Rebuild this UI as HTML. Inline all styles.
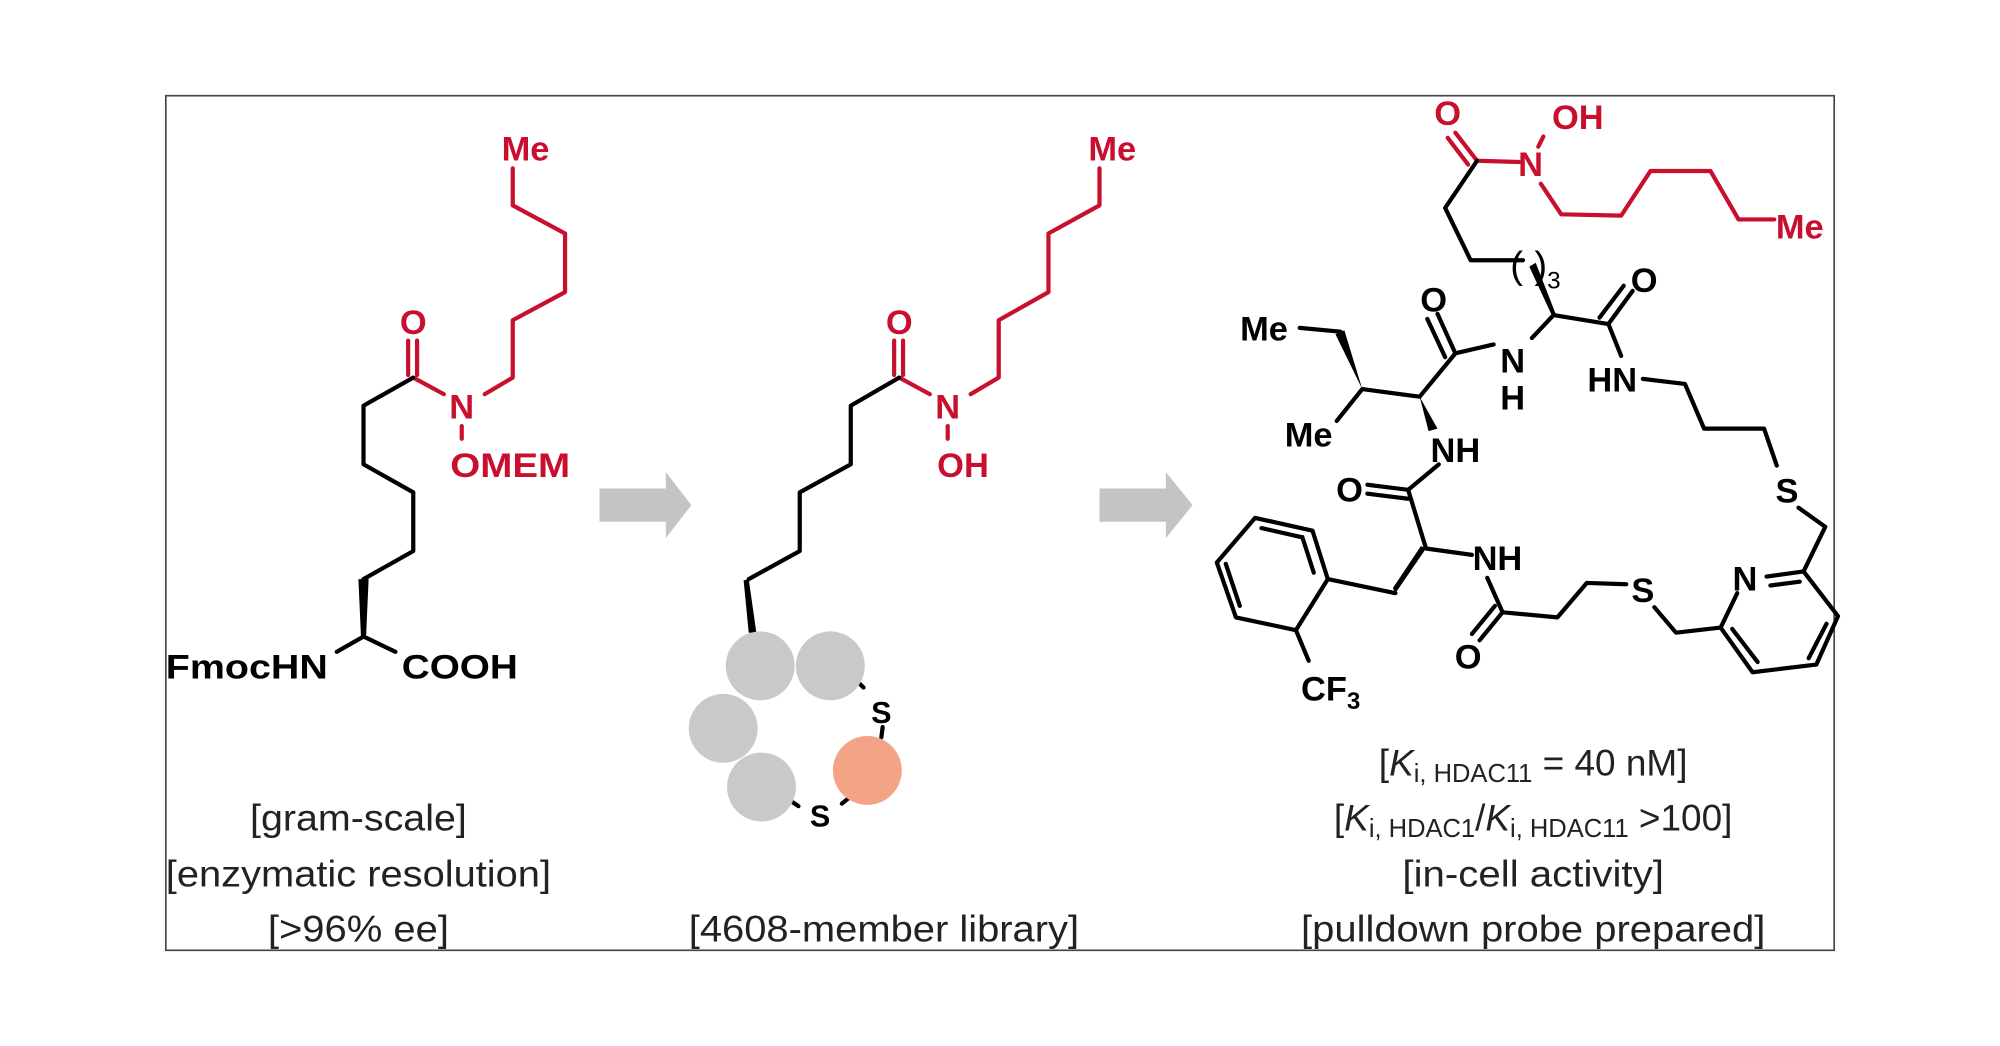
<!DOCTYPE html>
<html><head><meta charset="utf-8"><style>html,body{margin:0;padding:0;background:#fff}svg{display:block}</style></head><body>
<svg width="2000" height="1046" viewBox="0 0 1568 820" xmlns="http://www.w3.org/2000/svg">
<rect x="130" y="75" width="1308" height="670" fill="none" stroke="#444" stroke-width="1.3"/>
<g fill="none" stroke-width="3.3" stroke-linejoin="round" stroke-linecap="round">
<polyline stroke="#c8102e" points="402,132 402,161 443,183 443,229 402,251 402,296 380,309"/>
<polyline stroke="#c8102e" points="324,296 348,309"/>
<line stroke="#c8102e" x1="320" y1="267" x2="320" y2="294"/>
<line stroke="#c8102e" x1="327" y1="267" x2="327" y2="294"/>
<line stroke="#c8102e" x1="362" y1="334" x2="362" y2="344"/>
<polyline stroke="#000" points="324,296 285,318 285,364 324,386 324,432 285,454"/>
<polyline stroke="#000" points="264,511 285,499 310,511"/>
<polyline stroke="#c8102e" points="862,132 862,161 822,183 822,229 783,251 783,296 761,309"/>
<polyline stroke="#c8102e" points="705,296 729,309"/>
<line stroke="#c8102e" x1="701" y1="267" x2="701" y2="294"/>
<line stroke="#c8102e" x1="708" y1="267" x2="708" y2="294"/>
<line stroke="#c8102e" x1="743" y1="334" x2="743" y2="344"/>
<polyline stroke="#000" points="705,296 667,318 667,364 627,386 627,432 587,454"/>
<line stroke="#000" x1="674" y1="536" x2="677" y2="539"/>
<line stroke="#000" x1="692" y1="570" x2="691" y2="578"/>
<line stroke="#000" x1="660" y1="630" x2="665" y2="626"/>
<line stroke="#000" x1="620" y1="628" x2="626" y2="632"/>
<polyline stroke="#c8102e" points="1158,126 1191,127"/>
<line stroke="#c8102e" x1="1158" y1="126" x2="1141" y2="104"/>
<line stroke="#c8102e" x1="1151" y1="129" x2="1135" y2="108"/>
<line stroke="#c8102e" x1="1210" y1="107" x2="1206" y2="115"/>
<polyline stroke="#c8102e" points="1208,144 1224,168 1271,169 1294,134 1341,134 1363,172 1391,172"/>
<polyline stroke="#000" points="1158,126 1133,163 1153,204 1194,204"/>
<polyline stroke="#000" points="1218,247 1261,254 1271,279"/>
<line stroke="#000" x1="1261" y1="254" x2="1280" y2="228"/>
<line stroke="#000" x1="1254" y1="249" x2="1273" y2="224"/>
<polyline stroke="#000" points="1218,247 1201,265"/>
<polyline stroke="#000" points="1288,297 1321,301 1336,336 1383,336 1393,365"/>
<polyline stroke="#000" points="1410,398 1431,413 1414,448 1441,483 1424,521 1374,527 1349,492 1314,496 1297,476"/>
<polyline stroke="#000" points="1414,448 1385,452"/>
<line stroke="#000" x1="1411" y1="456" x2="1388" y2="459"/>
<line stroke="#000" x1="1432" y1="489" x2="1418" y2="516"/>
<line stroke="#000" x1="1378" y1="519" x2="1358" y2="493"/>
<polyline stroke="#000" points="1349,492 1362,465"/>
<polyline stroke="#000" points="1171,270 1141,277 1113,311 1068,305 1048,330"/>
<line stroke="#000" x1="1141" y1="277" x2="1127" y2="246"/>
<line stroke="#000" x1="1133" y1="280" x2="1119" y2="250"/>
<polyline stroke="#000" points="1051,260 1019,257"/>
<polyline stroke="#000" points="1128,364 1104,384 1118,430 1154,435"/>
<line stroke="#000" x1="1104" y1="384" x2="1072" y2="380"/>
<line stroke="#000" x1="1104" y1="391" x2="1072" y2="387"/>
<polyline stroke="#000" points="1094,465 1041,454 1029,416 984,406 954,441 969,484 1016,494 1041,454"/>
<line stroke="#000" x1="1021" y1="421" x2="1030" y2="449"/>
<line stroke="#000" x1="961" y1="442" x2="972" y2="475"/>
<line stroke="#000" x1="989" y1="414" x2="1020" y2="421"/>
<line stroke="#000" x1="1016" y1="494" x2="1026" y2="518"/>
<polyline stroke="#000" points="1166,453 1178,480 1221,484 1244,457 1275,458"/>
<line stroke="#000" x1="1178" y1="480" x2="1160" y2="502"/>
<line stroke="#000" x1="1172" y1="475" x2="1154" y2="497"/>
</g>
<polygon points="285,454 281,454 283,499 287,499 289,454" fill="#000"/>
<polygon points="587,454 583,455 587,496 593,496" fill="#000"/>
<polygon points="1204,206 1199,209 1217,248 1220,247" fill="#000"/>
<polygon points="1068,305 1047,262 1054,259" fill="#000"/>
<polygon points="1113,311 1120,338 1127,336" fill="#000"/>
<polygon points="1118,430 1094,465 1092,461 1114,428" fill="#000"/>
<circle cx="596" cy="522" r="27" fill="#c9c9c9"/>
<circle cx="651" cy="522" r="27" fill="#c9c9c9"/>
<circle cx="567" cy="571" r="27" fill="#c9c9c9"/>
<circle cx="597" cy="617" r="27" fill="#c9c9c9"/>
<circle cx="680" cy="604" r="27" fill="#f4a486"/>
<polygon points="470,383 522,383 522,370 542,396 522,422 522,409 470,409" fill="#c4c4c4"/>
<polygon points="862,383 914,383 914,370 935,396 914,422 914,409 862,409" fill="#c4c4c4"/>
<g font-family="Liberation Sans, Arial, sans-serif" font-weight="bold" font-size="27">
<g fill="#c8102e">
<text x="412" y="126" text-anchor="middle">Me</text>
<text x="324" y="262" text-anchor="middle">O</text>
<text x="362" y="328" text-anchor="middle">N</text>
<text x="400" y="374" text-anchor="middle" textLength="94" lengthAdjust="spacingAndGlyphs">OMEM</text>
<text x="872" y="126" text-anchor="middle">Me</text>
<text x="705" y="262" text-anchor="middle">O</text>
<text x="743" y="328" text-anchor="middle">N</text>
<text x="755" y="374" text-anchor="middle">OH</text>
<text x="1135" y="98" text-anchor="middle">O</text>
<text x="1237" y="101" text-anchor="middle">OH</text>
<text x="1200" y="138" text-anchor="middle">N</text>
<text x="1411" y="187" text-anchor="middle">Me</text>
</g>
<text x="130" y="532" textLength="127" lengthAdjust="spacingAndGlyphs">FmocHN</text>
<text x="315" y="532" textLength="91" lengthAdjust="spacingAndGlyphs">COOH</text>
<text x="691" y="567" text-anchor="middle" font-size="24">S</text>
<text x="643" y="648" text-anchor="middle" font-size="24">S</text>
<text x="1289" y="229" text-anchor="middle">O</text>
<text x="1124" y="244" text-anchor="middle">O</text>
<text x="991" y="267" text-anchor="middle">Me</text>
<text x="1186" y="292" text-anchor="middle">N</text>
<text x="1186" y="321" text-anchor="middle">H</text>
<text x="1264" y="307" text-anchor="middle">HN</text>
<text x="1026" y="350" text-anchor="middle">Me</text>
<text x="1141" y="362" text-anchor="middle">NH</text>
<text x="1058" y="393" text-anchor="middle">O</text>
<text x="1401" y="394" text-anchor="middle">S</text>
<text x="1174" y="447" text-anchor="middle">NH</text>
<text x="1288" y="472" text-anchor="middle">S</text>
<text x="1368" y="463" text-anchor="middle">N</text>
<text x="1151" y="524" text-anchor="middle">O</text>
<text x="1020" y="549">CF<tspan font-size="19" dy="7">3</tspan></text>
<text x="1184" y="218" font-weight="normal" font-size="30">(</text>
<text x="1203" y="218" font-weight="normal" font-size="30">)</text>
<text x="1213" y="226" font-weight="normal" font-size="19">3</text>
</g>
<g font-family="Liberation Sans, Arial, sans-serif" font-size="29" fill="#222" text-anchor="middle">
<text x="281" y="651" textLength="170" lengthAdjust="spacingAndGlyphs">[gram-scale]</text>
<text x="281" y="695" textLength="302" lengthAdjust="spacingAndGlyphs">[enzymatic resolution]</text>
<text x="281" y="738" textLength="142" lengthAdjust="spacingAndGlyphs">[&gt;96% ee]</text>
<text x="693" y="738" textLength="306" lengthAdjust="spacingAndGlyphs">[4608-member library]</text>
<text x="1202" y="608">[<tspan font-style="italic">K</tspan><tspan font-size="20" dy="5">i, HDAC11</tspan><tspan dy="-5"> = 40 nM]</tspan></text>
<text x="1202" y="651">[<tspan font-style="italic">K</tspan><tspan font-size="20" dy="5">i, HDAC1</tspan><tspan dy="-5">/</tspan><tspan font-style="italic">K</tspan><tspan font-size="20" dy="5">i, HDAC11</tspan><tspan dy="-5"> &gt;100]</tspan></text>
<text x="1202" y="695" textLength="205" lengthAdjust="spacingAndGlyphs">[in-cell activity]</text>
<text x="1202" y="738" textLength="364" lengthAdjust="spacingAndGlyphs">[pulldown probe prepared]</text>
</g>
</svg>
</body></html>
